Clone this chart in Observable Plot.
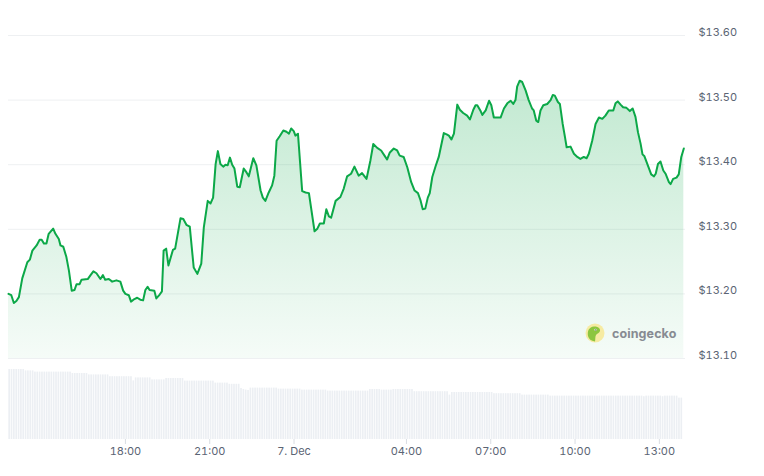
<!DOCTYPE html>
<html>
<head>
<meta charset="utf-8">
<script src="https://cdn.jsdelivr.net/npm/d3@7"></script>
<script src="https://cdn.jsdelivr.net/npm/@observablehq/plot@0.6"></script>
<style>
  html, body { margin: 0; padding: 0; background: #fff; }
  #wrap { position: relative; width: 764px; height: 476px; font-family: Inter, "Open Sans", sans-serif; }
  #price, #vol { position: absolute; left: 0; }
  #price { top: 0; }
  #vol { top: 365px; }
  #logo { position: absolute; left: 585px; top: 323px; display: flex; align-items: center; gap: 7px; }
  #logo span { font-family: Inter, sans-serif; font-weight: 700; font-size: 12.5px; color: #878b92; letter-spacing: 0.1px; }
</style>
</head>
<body>
<div id="wrap">
  <div id="price"></div>
  <div id="vol"></div>
  <div id="logo">
    <svg width="20" height="20" viewBox="0 0 20 20">
      <circle cx="10" cy="10" r="9.5" fill="#f6eba2"/>
      <path d="M3 13 C2 8 4 4 9 3.5 C13 3.2 15.5 5.5 15 8 C14.5 10 12 10.5 11 12 C10 14 10.5 16.5 10 18.5 C6 18 3.8 16 3 13 Z" fill="#8cc63f"/>
      <circle cx="10.5" cy="6.8" r="1.1" fill="#fff"/>
      <circle cx="10.7" cy="6.9" r="0.55" fill="#333"/>
    </svg>
    <span>coingecko</span>
  </div>
</div>
<script>
// Price series: hours since 6 Dec 00:00 (UTC) and price in USD
const hours = [13.84,13.94,14.03,14.12,14.21,14.33,14.51,14.60,14.69,14.84,14.95,15.02,15.10,15.19,15.27,15.43,15.51,15.63,15.69,15.79,
15.90,15.99,16.09,16.19,16.26,16.37,16.44,16.66,16.76,16.86,16.97,17.11,17.20,17.28,17.41,17.53,17.68,17.82,17.92,18.00,
18.12,18.20,18.32,18.42,18.53,18.63,18.71,18.79,18.86,19.03,19.10,19.22,19.30,19.36,19.45,19.53,19.69,19.77,19.96,20.06,
20.17,20.29,20.43,20.56,20.70,20.79,20.93,21.03,21.12,21.21,21.29,21.38,21.48,21.56,21.64,21.72,21.80,21.88,21.98,22.07,
22.21,22.31,22.39,22.55,22.66,22.81,22.89,22.98,23.10,23.22,23.30,23.38,23.49,23.62,23.73,23.82,23.90,23.99,24.05,24.14,
24.29,24.41,24.53,24.73,24.83,24.92,25.06,25.15,25.24,25.32,25.48,25.65,25.77,25.89,26.03,26.15,26.30,26.42,26.58,26.72,
26.82,26.96,27.10,27.22,27.31,27.41,27.55,27.67,27.76,27.90,28.03,28.17,28.29,28.41,28.50,28.58,28.67,28.76,28.83,28.92,
29.04,29.15,29.33,29.43,29.51,29.60,29.69,29.81,29.90,30.02,30.16,30.26,30.38,30.46,30.52,30.64,30.70,30.82,30.94,31.02,
31.11,31.23,31.35,31.47,31.59,31.71,31.80,31.88,31.94,32.03,32.12,32.24,32.35,32.47,32.53,32.62,32.69,32.77,32.87,33.01,
33.13,33.21,33.28,33.39,33.46,33.56,33.64,33.70,33.84,33.96,34.08,34.19,34.31,34.41,34.49,34.61,34.73,34.85,34.97,35.08,
35.20,35.36,35.44,35.52,35.62,35.71,35.83,35.95,36.05,36.15,36.24,36.33,36.40,36.47,36.59,36.71,36.81,36.87,36.95,37.04,
37.14,37.22,37.34,37.40,37.49,37.61,37.69,37.78,37.87];
const prices = [13.200,13.198,13.186,13.189,13.195,13.224,13.249,13.253,13.267,13.275,13.284,13.284,13.278,13.278,13.293,13.301,13.293,13.285,13.275,13.273,
13.257,13.236,13.205,13.206,13.215,13.215,13.222,13.223,13.229,13.235,13.232,13.223,13.229,13.222,13.223,13.219,13.221,13.219,13.205,13.200,
13.198,13.188,13.192,13.194,13.191,13.190,13.206,13.211,13.206,13.205,13.193,13.199,13.204,13.267,13.270,13.244,13.268,13.270,13.317,13.316,
13.307,13.304,13.241,13.231,13.247,13.303,13.344,13.340,13.349,13.401,13.421,13.401,13.397,13.400,13.399,13.411,13.400,13.394,13.366,13.365,
13.394,13.388,13.382,13.410,13.399,13.360,13.349,13.344,13.357,13.368,13.383,13.437,13.444,13.453,13.451,13.448,13.456,13.452,13.445,13.448,
13.359,13.357,13.356,13.297,13.301,13.309,13.309,13.331,13.320,13.318,13.344,13.350,13.363,13.382,13.386,13.397,13.383,13.387,13.378,13.407,
13.432,13.426,13.422,13.414,13.408,13.419,13.425,13.422,13.414,13.412,13.396,13.373,13.360,13.356,13.345,13.331,13.332,13.349,13.356,13.381,
13.398,13.412,13.449,13.447,13.445,13.439,13.448,13.493,13.485,13.480,13.476,13.470,13.485,13.492,13.492,13.483,13.477,13.484,13.499,13.492,
13.473,13.473,13.473,13.487,13.495,13.499,13.494,13.500,13.521,13.530,13.528,13.515,13.500,13.487,13.484,13.468,13.466,13.484,13.492,13.494,
13.500,13.508,13.507,13.497,13.494,13.463,13.443,13.427,13.428,13.417,13.412,13.409,13.412,13.410,13.417,13.437,13.463,13.473,13.471,13.476,
13.484,13.484,13.495,13.498,13.493,13.489,13.488,13.483,13.487,13.474,13.450,13.433,13.416,13.413,13.399,13.385,13.382,13.386,13.401,13.405,
13.391,13.386,13.373,13.370,13.378,13.380,13.385,13.412,13.425];

// Volume: one bar per 5 minutes from the first hour above (arbitrary units)
const volumes = [350,350,350,350,350,350,350,343,343,343,343,337,337,337,337,337,337,337,337,337,
337,337,337,337,337,337,337,330,330,330,330,330,330,330,323,323,323,323,323,323,
323,323,323,314,314,314,314,314,314,314,314,314,314,293,308,308,308,308,308,308,
308,298,298,298,298,298,298,305,305,305,305,305,305,305,305,292,292,292,292,292,
292,292,292,292,292,292,292,292,282,282,282,282,282,282,276,276,276,276,276,255,
250,247,245,257,257,257,257,257,257,257,257,257,257,257,257,252,252,252,252,252,
252,252,252,252,252,247,247,247,247,247,247,247,247,247,247,247,242,242,242,242,
242,242,242,242,242,242,242,242,242,242,242,242,242,242,250,250,250,250,250,247,
247,247,247,247,250,250,250,250,250,250,250,250,250,239,239,239,239,239,239,239,
239,239,239,239,239,239,239,239,222,235,235,235,235,235,235,235,235,235,235,235,
235,235,235,235,235,235,235,229,229,229,229,229,229,229,229,229,229,229,229,222,
222,222,222,222,222,222,222,222,222,222,222,217,217,217,217,217,217,217,217,217,
217,217,217,217,217,217,217,217,217,217,217,217,217,217,217,217,217,217,217,217,
217,217,217,217,217,217,217,217,217,217,217,214,217,217,217,217,217,217,217,214,
217,217,217,217,217,217,207,207];

const yTicks = [13.10, 13.20, 13.30, 13.40, 13.50, 13.60];
const xTickHours = [18, 21, 24, 28, 31, 34, 37];
const domainHours = [13.84, 37.93];

const base = Date.UTC(2023, 11, 6);
const toDate = h => new Date(base + h * 3600000);
const priceData = hours.map((h, i) => ({t: toDate(h), p: prices[i]}));
const stepH = 5 / 60;
const volData = volumes.map((v, i) => ({t1: toDate(domainHours[0] + i * stepH), t2: toDate(domainHours[0] + (i + 1) * stepH), v}));
const xDomain = domainHours.map(toDate);
const xTicks = xTickHours.map(toDate);
const fmtHM = d3.utcFormat("%H:%M");
const tickFmt = d => d.getUTCHours() === 0 ? `${d.getUTCDate()}. Dec` : fmtHM(d);

const green = "#0ca848";

const defs = () => {
  const d = d3.create("svg:defs");
  const g = d.append("linearGradient").attr("id", "areaGrad")
    .attr("gradientUnits", "userSpaceOnUse").attr("x1", 0).attr("x2", 0).attr("y1", 60).attr("y2", 358);
  g.append("stop").attr("offset", "0%").attr("stop-color", green).attr("stop-opacity", 0.27);
  g.append("stop").attr("offset", "100%").attr("stop-color", green).attr("stop-opacity", 0.04);
  return d.node();
};

const pricePlot = Plot.plot({
  width: 764, height: 365,
  marginLeft: 8, marginRight: 79, marginTop: 35, marginBottom: 7,
  style: {fontFamily: "Inter, sans-serif", fontSize: "11px", overflow: "visible", background: "transparent"},
  x: {type: "utc", domain: xDomain, axis: null},
  y: {domain: [13.10, 13.60], axis: null},
  marks: [
    defs,
    Plot.ruleY(yTicks, {stroke: "#eef0f2", strokeWidth: 1}),
    Plot.areaY(priceData, {x: "t", y1: 13.10, y2: "p", fill: "url(#areaGrad)"}),
    Plot.lineY(priceData, {x: "t", y: "p", stroke: green, strokeWidth: 2, strokeLinejoin: "round"}),
    Plot.axisY(yTicks, {anchor: "right", label: null, tickSize: 0, tickPadding: 13, dy: -3, tickFormat: d => "$" + d.toFixed(2), fill: "#5b6474", fontSize: 11})
  ]
});
document.getElementById("price").appendChild(pricePlot);

const volPlot = Plot.plot({
  width: 764, height: 111,
  marginLeft: 8, marginRight: 79, marginTop: 2, marginBottom: 37,
  style: {fontFamily: "Inter, sans-serif", fontSize: "11px", overflow: "visible", background: "transparent"},
  x: {type: "utc", domain: xDomain, axis: null},
  y: {domain: [0, 360], axis: null},
  marks: [
    Plot.rectY(volData, {x1: "t1", x2: "t2", y: "v", fill: "#eceff3", insetLeft: 0.35, insetRight: 0.35}),
    Plot.axisX(xTicks, {label: null, tickSize: 5, tickPadding: 3, tickFormat: tickFmt, stroke: "#d9dde3", fill: "#5b6474", fontSize: 11})
  ]
});
document.getElementById("vol").appendChild(volPlot);
</script>
</body>
</html>
